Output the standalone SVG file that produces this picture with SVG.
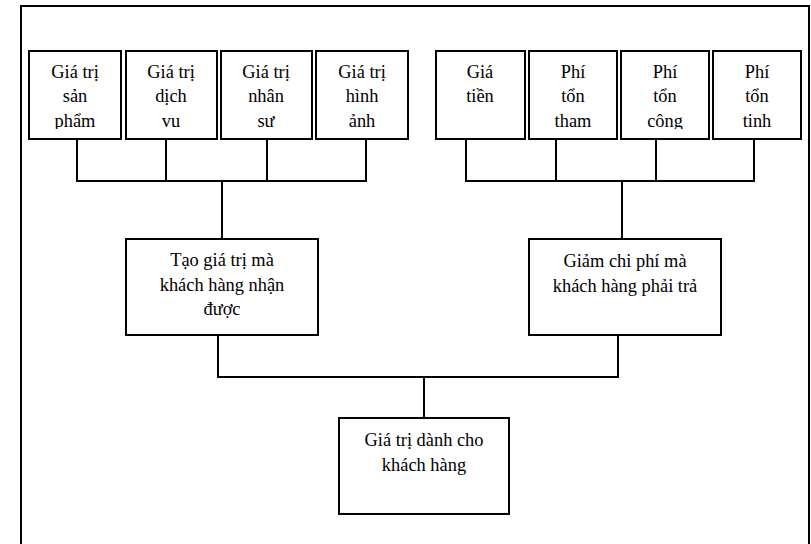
<svg xmlns="http://www.w3.org/2000/svg" width="811" height="544" viewBox="0 0 811 544">
<style>
.b{fill:#fff;stroke:#000;stroke-width:2}
.t{font-family:"Liberation Serif","Times New Roman","DejaVu Serif",serif;font-size:18.4px;fill:#000;text-anchor:middle}
.c{fill:none;stroke:#000;stroke-width:2}
</style>
<defs><clipPath id="top"><rect x="0" y="0" width="811" height="129"/></clipPath></defs>
<rect width="811" height="544" fill="#fff"/>
<path class="c" d="M21,550V6H809V550"/>
<g id="connectors">
<path class="c" d="M77,139V181M166,139V181M267,139V181M366,139V181M76,181H367M222,181V239"/>
<path class="c" d="M466,139V181M556,139V181M656,139V181M754,139V181M465,181H755M622,181V239"/>
<path class="c" d="M218,335V377H619M618,335V377M424,377V418"/>
</g>
<g id="n1"><rect class="b" x="29" y="51" width="92" height="88"/><text class="t" clip-path="url(#top)"><tspan x="75" y="78">Giá trị</tspan><tspan x="75" y="102">sản</tspan><tspan x="75" y="127">phẩm</tspan></text></g>
<g id="n2"><rect class="b" x="126" y="51" width="91" height="88"/><text class="t" clip-path="url(#top)"><tspan x="171" y="78">Giá trị</tspan><tspan x="171" y="102">dịch</tspan><tspan x="171" y="127">vu</tspan></text></g>
<g id="n3"><rect class="b" x="221" y="51" width="91" height="88"/><text class="t" clip-path="url(#top)"><tspan x="266" y="78">Giá trị</tspan><tspan x="266" y="102">nhân</tspan><tspan x="266" y="127">sư</tspan></text></g>
<g id="n4"><rect class="b" x="316" y="51" width="92" height="88"/><text class="t" clip-path="url(#top)"><tspan x="362" y="78">Giá trị</tspan><tspan x="362" y="102">hình</tspan><tspan x="362" y="127">ảnh</tspan></text></g>
<g id="n5"><rect class="b" x="436" y="51" width="89" height="88"/><text class="t" clip-path="url(#top)"><tspan x="480" y="78">Giá</tspan><tspan x="480" y="102">tiền</tspan></text></g>
<g id="n6"><rect class="b" x="529" y="51" width="88" height="88"/><text class="t" clip-path="url(#top)"><tspan x="573" y="78">Phí</tspan><tspan x="573" y="102">tổn</tspan><tspan x="573" y="127">tham</tspan></text></g>
<g id="n7"><rect class="b" x="621" y="51" width="88" height="88"/><text class="t" clip-path="url(#top)"><tspan x="665" y="78">Phí</tspan><tspan x="665" y="102">tổn</tspan><tspan x="665" y="127">công</tspan></text></g>
<g id="n8"><rect class="b" x="713" y="51" width="88" height="88"/><text class="t" clip-path="url(#top)"><tspan x="757" y="78">Phí</tspan><tspan x="757" y="102">tổn</tspan><tspan x="757" y="127">tinh</tspan></text></g>
<g id="tao"><rect class="b" x="126" y="239" width="192" height="96"/><text class="t"><tspan x="222" y="266">Tạo giá trị mà</tspan><tspan x="222" y="291">khách hàng nhận</tspan><tspan x="222" y="315">được</tspan></text></g>
<g id="giam"><rect class="b" x="529" y="239" width="192" height="96"/><text class="t"><tspan x="625" y="267">Giảm chi phí mà</tspan><tspan x="625" y="292">khách hàng phải trả</tspan></text></g>
<g id="gt"><rect class="b" x="339" y="418" width="170" height="96"/><text class="t"><tspan x="424" y="446">Giá trị dành cho</tspan><tspan x="424" y="471">khách hàng</tspan></text></g>
</svg>
